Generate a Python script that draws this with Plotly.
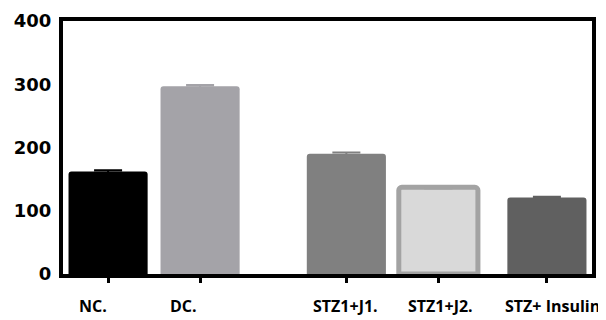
import plotly.graph_objects as go

categories = ["NC.", "DC.", "STZ1+J1.", "STZ1+J2.", "STZ+ Insulin"]
x_pos = [1.0, 2.0, 3.59, 4.59, 5.77]
label_pos = [0.84, 1.82, 3.58, 4.61, 5.83]
values = [162, 297, 190, 137, 121]
errors = [2, 2, 2, 2, 1]
fill_colors = ["#000000", "#a4a3a8", "#808080", "#d9d9d9", "#606060"]
line_colors = ["#000000", "#a4a3a8", "#808080", "#a3a3a3", "#606060"]
line_widths = [0, 0, 0, 5, 0]
y_ticks = [0, 100, 200, 300, 400]

fig = go.Figure()
for i in range(len(categories)):
    fig.add_trace(go.Bar(
        x=[x_pos[i]], y=[values[i]], width=0.86,
        marker=dict(color=fill_colors[i], line=dict(color=line_colors[i], width=line_widths[i])),
        error_y=dict(type="data", array=[errors[i]], visible=True,
                     color=line_colors[i], thickness=2, width=14),
        showlegend=False,
    ))
    fig.add_annotation(
        x=label_pos[i], y=0, xref="x", yref="paper", yanchor="top",
        yshift=-19, text=categories[i], showarrow=False,
        font=dict(family="Open Sans", size=16, color="black", weight="bold"),
    )

# page body has an 8px default margin, so the figure is shrunk by 8px
fig.update_layout(
    width=598, height=312,
    margin=dict(l=55, r=14, t=13, b=46),
    paper_bgcolor="white", plot_bgcolor="white",
    barcornerradius=3,
    xaxis=dict(
        range=[0.51, 6.26], tickvals=x_pos, ticktext=[""] * len(x_pos),
        showgrid=False, zeroline=False, automargin=False,
        showline=True, linecolor="black", linewidth=4, mirror=True,
        ticks="outside", ticklen=5, tickwidth=3, tickcolor="black",
    ),
    yaxis=dict(
        range=[0, 400], tickvals=y_ticks,
        showgrid=False, zeroline=False, automargin=False,
        showline=True, linecolor="black", linewidth=4, mirror=True,
        ticks="",
        tickfont=dict(family="DejaVu Sans", size=18, color="black", weight="bold"),
        ticklabelstandoff=4,
    ),
)

fig.write_html("out.html")
